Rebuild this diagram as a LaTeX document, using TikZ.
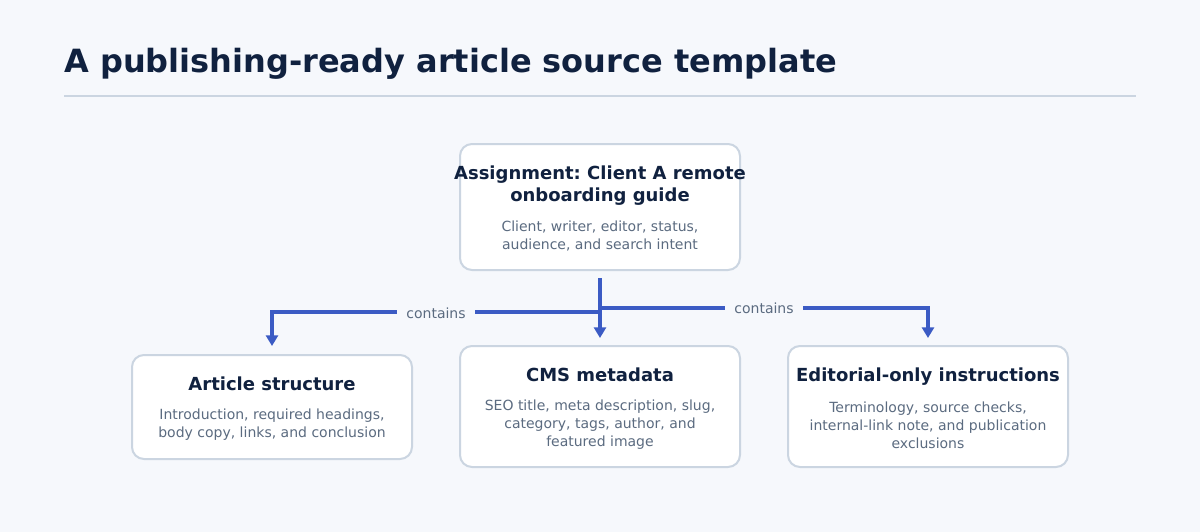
\documentclass[tikz,border=0pt]{standalone}
\usepackage{fontspec}
\setmainfont{DejaVu Sans}
\usetikzlibrary{arrows.meta}
\definecolor{bg}{HTML}{F6F8FC}
\definecolor{ink}{HTML}{10213F}
\definecolor{sub}{HTML}{5B6B80}
\definecolor{rule}{HTML}{CBD5E1}
\definecolor{edge}{HTML}{3B5BC4}
\frenchspacing
\begin{document}
\begin{tikzpicture}[x=0.75pt,y=-0.75pt,
 box/.style={draw=rule,line width=1.5pt,fill=white,rounded corners=9pt},
 ttl/.style={font=\bfseries\fontsize{13.5}{16.5}\selectfont,text=ink,align=center,anchor=base},
 st/.style={font=\fontsize{10.5}{13.5}\selectfont,text=sub,align=center},
 conn/.style={draw=edge,line width=2.4pt,-{Triangle[length=8pt,width=9pt]}},
 lbl/.style={fill=bg,font=\fontsize{10.5}{12}\selectfont,text=sub,inner xsep=7pt,inner ysep=3pt}]
\fill[bg] (0,0) rectangle (1200,532);
\useasboundingbox (0,0) rectangle (1200,532);
\node[anchor=base west,font=\bfseries\fontsize{24}{28}\selectfont,text=ink,inner sep=0pt] (title) at (64,72) {A publishing-ready article source template};
\draw[rule,line width=1.2pt] (64,96) -- (1136,96);
\draw[box] (460,144) rectangle (740,270);
\node[ttl] (t0) at (600,201) {Assignment: Client A remote\\onboarding guide};
\node[st] (s0) at (600,236) {Client, writer, editor, status,\\audience, and search intent};
\draw[box] (132,355) rectangle (412,459);
\node[ttl] (t1) at (272,390) {Article structure};
\node[st] (s1) at (272,425) {Introduction, required headings,\\body copy, links, and conclusion};
\draw[box] (460,346) rectangle (740,467);
\node[ttl] (t2) at (600,381) {CMS metadata};
\node[st] (s2) at (600,425) {SEO title, meta description, slug,\\category, tags, author, and\\featured image};
\draw[box] (788,346) rectangle (1068,467);
\node[ttl] (t3) at (928,381) {Editorial-only instructions};
\node[st] (s3) at (928,425) {Terminology, source checks,\\internal-link note, and publication\\exclusions};
\coordinate (o) at (600,278);
\coordinate (a1) at (272,346);
\coordinate (a2) at (600,338);
\coordinate (a3) at (928,338);
\draw[conn] (o) -- (600,312) -- (272,312) -- (a1);
\draw[conn] (o) -- (a2);
\draw[conn] (600,308) -- (928,308) -- (a3);
\node[lbl] (l1) at (436,313) {contains};
\node[lbl] (l2) at (764,308) {contains};
\end{tikzpicture}
\end{document}
